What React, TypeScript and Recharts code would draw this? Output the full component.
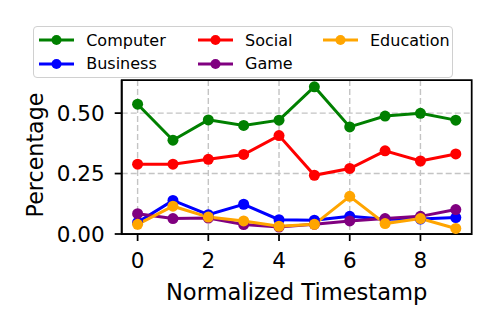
import React from 'react';
import { LineChart, Line, XAxis, YAxis, CartesianGrid, ReferenceArea, Label } from 'recharts';

const timestamps = [0, 1, 2, 3, 4, 5, 6, 7, 8, 9];
const computer = [0.537, 0.388, 0.472, 0.449, 0.471, 0.609, 0.443, 0.488, 0.499, 0.471];
const business = [0.048, 0.139, 0.08, 0.123, 0.059, 0.057, 0.073, 0.061, 0.062, 0.068];
const social = [0.289, 0.289, 0.309, 0.329, 0.407, 0.243, 0.271, 0.344, 0.302, 0.331];
const game = [0.084, 0.064, 0.066, 0.039, 0.029, 0.04, 0.054, 0.064, 0.073, 0.101];
const education = [0.04, 0.115, 0.07, 0.054, 0.032, 0.04, 0.156, 0.043, 0.064, 0.023];

const xTicks = [0, 2, 4, 6, 8];
const yTicks = [0, 0.25, 0.5];
const xDomain = [-0.45, 9.45];
const yDomain = [0, 0.637];

const series = [
  { key: 'Computer', values: computer, color: '#008000' },
  { key: 'Business', values: business, color: '#0000ff' },
  { key: 'Social', values: social, color: '#ff0000' },
  { key: 'Game', values: game, color: '#800080' },
  { key: 'Education', values: education, color: '#ffa500' },
];

const data = timestamps.map((t, i) => {
  const row: Record<string, number> = { t };
  series.forEach((s) => {
    row[s.key] = s.values[i];
  });
  return row;
});

const FONT = 'DejaVu Sans';

function LegendBox() {
  // matplotlib ncol=3 fills column-wise
  const cols = [[series[0], series[1]], [series[2], series[3]], [series[4]]];
  const colLeft = [5.5, 164.3, 289.3];
  return (
    <div
      style={{
        position: 'absolute',
        left: 32.7,
        top: 25.7,
        width: 418,
        height: 50.5,
        border: '1.5px solid #d0d0d0',
        borderRadius: 4,
        background: 'rgba(255,255,255,0.85)',
        fontFamily: FONT,
        fontSize: 16,
        color: '#000',
      }}
    >
      {cols.map((col, ci) =>
        col.map((s, ri) => (
          <div
            key={s.key}
            style={{
              position: 'absolute',
              left: colLeft[ci],
              top: 2 + ri * 23.4,
              height: 23,
              display: 'flex',
              alignItems: 'center',
              whiteSpace: 'nowrap',
            }}
          >
            <svg width={35} height={14} style={{ display: 'block' }}>
              <line x1={0} y1={7} x2={35} y2={7} stroke={s.color} strokeWidth={3} />
              <circle cx={17.5} cy={7} r={5} fill={s.color} />
            </svg>
            <span style={{ marginLeft: 12, lineHeight: '23px' }}>{s.key}</span>
          </div>
        ))
      )}
    </div>
  );
}

export default function App() {
  return (
    <div style={{ position: 'absolute', left: 0, top: 0, width: 498, height: 332, background: '#fff' }}>
      <LineChart
        width={498}
        height={332}
        data={data}
        margin={{ top: 80, right: 26.3, bottom: 0, left: 0 }}
        style={{ fontFamily: FONT }}
      >
        <CartesianGrid
          stroke="#c4c4c4"
          strokeWidth={1.4}
          strokeDasharray="6 3"
          verticalValues={xTicks}
          horizontalValues={yTicks}
        />
        <XAxis
          dataKey="t"
          type="number"
          domain={xDomain}
          ticks={xTicks}
          allowDataOverflow
          height={98}
          tickSize={7}
          tickMargin={12}
          axisLine={{ stroke: '#000', strokeWidth: 1.75 }}
          tickLine={{ stroke: '#000', strokeWidth: 1.75 }}
          tick={{ fill: '#000', fontSize: 21.5, fontFamily: FONT }}
        >
          <Label
            content={(props: any) => {
              const vb = props.viewBox;
              return (
                <text
                  x={vb.x + vb.width / 2}
                  y={vb.y + 66}
                  textAnchor="middle"
                  fontSize={22.6}
                  fontFamily={FONT}
                  fill="#000"
                >
                  Normalized Timestamp
                </text>
              );
            }}
          />
        </XAxis>
        <YAxis
          type="number"
          domain={yDomain}
          ticks={yTicks}
          allowDataOverflow
          width={121.7}
          tickSize={7}
          tickMargin={10}
          tickFormatter={(v: number) => v.toFixed(2)}
          axisLine={{ stroke: '#000', strokeWidth: 1.75 }}
          tickLine={{ stroke: '#000', strokeWidth: 1.75 }}
          tick={{ fill: '#000', fontSize: 21.5, fontFamily: FONT }}
        >
          <Label
            content={(props: any) => {
              const vb = props.viewBox;
              const cx = 34.5;
              const cy = vb.y + vb.height / 2 - 2;
              return (
                <text
                  x={cx}
                  y={cy}
                  transform={`rotate(-90 ${cx} ${cy})`}
                  textAnchor="middle"
                  dominantBaseline="central"
                  fontSize={22.2}
                  fontFamily={FONT}
                  fill="#000"
                >
                  Percentage
                </text>
              );
            }}
          />
        </YAxis>
        {series.map((s) => (
          <Line
            key={s.key}
            dataKey={s.key}
            stroke={s.color}
            strokeWidth={3}
            dot={{ r: 5.5, fill: s.color, stroke: s.color, strokeWidth: 0 }}
            activeDot={false}
            isAnimationActive={false}
          />
        ))}
        <ReferenceArea
          x1={xDomain[0]}
          x2={xDomain[1]}
          y1={yDomain[0]}
          y2={yDomain[1]}
          fill="none"
          fillOpacity={0}
          stroke="#000"
          strokeWidth={1.75}
        />
      </LineChart>
      <LegendBox />
    </div>
  );
}
